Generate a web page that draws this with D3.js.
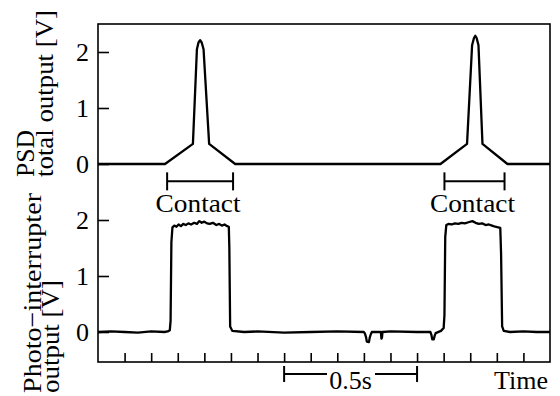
<!DOCTYPE html>
<html>
<head>
<meta charset="utf-8" />
<script src="https://d3js.org/d3.v7.min.js"></script>
<style>
  body { margin: 0; background: #fff; }
  svg text { font-family: "Liberation Serif", "Times New Roman", serif; font-size: 26px; fill: #000; }
</style>
</head>
<body>
<div id="visu"></div>
<script>
// PSD total output [V] vs time [s]
const psdTime = [0, 0.252, 0.357, 0.372, 0.378, 0.384, 0.390, 0.397, 0.418, 0.516,
                 1.288, 1.388, 1.407, 1.414, 1.419, 1.424, 1.431, 1.446, 1.540, 1.7];
const psdVolt = [0, 0, 0.36, 2.05, 2.17, 2.21, 2.17, 2.05, 0.36, 0,
                 0, 0.36, 2.12, 2.25, 2.29, 2.25, 2.12, 0.36, 0, 0];

// Photo-interrupter output [V] vs time [s]
const piTime = [0, 0.05, 0.1, 0.15, 0.2, 0.25, 0.262, 0.270, 0.273, 0.276, 0.280, 0.287, 0.295, 0.303,
                0.312, 0.320, 0.330, 0.340, 0.350, 0.362, 0.372, 0.381, 0.390, 0.400, 0.410, 0.420,
                0.432, 0.445, 0.456, 0.466, 0.476, 0.486, 0.492, 0.494, 0.497, 0.505, 0.55,
                0.6, 0.7, 0.8, 0.9, 1.0, 1.004, 1.008, 1.011, 1.019, 1.022, 1.026, 1.030,
                1.064, 1.066, 1.068, 1.070,
                1.1, 1.2, 1.250, 1.254, 1.257, 1.263, 1.266, 1.270, 1.29, 1.300, 1.303, 1.306, 1.310, 1.318,
                1.330, 1.342, 1.355, 1.368, 1.380, 1.393, 1.408, 1.420, 1.432, 1.445, 1.458,
                1.470, 1.482, 1.494, 1.505, 1.513, 1.516, 1.520, 1.526, 1.55, 1.6, 1.65, 1.7];
const piVolt = [0, 0.01, 0, -0.01, 0.01, 0, 0.01, 0.03, 0.2, 1.6, 1.87, 1.90, 1.88, 1.92,
                1.89, 1.93, 1.91, 1.94, 1.92, 1.95, 1.93, 1.98, 1.95, 1.97, 1.94, 1.93,
                1.95, 1.91, 1.93, 1.90, 1.92, 1.89, 1.88, 1.5, 0.1, 0.02, 0,
                0.01, -0.01, 0, 0.01, 0, -0.03, -0.09, -0.17, -0.18, -0.10, -0.04, 0,
                0, -0.12, -0.10, 0,
                0.01, 0, 0, -0.05, -0.13, -0.13, -0.07, -0.02, 0.02, 0.07, 0.3, 1.7, 1.91, 1.93,
                1.92, 1.94, 1.93, 1.95, 1.94, 1.96, 1.98, 1.95, 1.93, 1.94, 1.91,
                1.92, 1.90, 1.88, 1.87, 1.86, 1.4, 0.1, 0.02, 0, 0.01, 0, 0];

// Contact intervals [s]
const contactStart = [0.26, 1.303];
const contactEnd = [0.508, 1.529];
const contactLabel = "Contact";

const yTicks = [0, 1, 2];
const xTicks = d3.range(1, 17).map(i => i / 10);
const scaleBar = [0.7, 1.2];
const scaleBarLabel = "0.5s";

const width = 560, height = 396;
const mLeft = 98, mRight = 550, mTop = 24, mBottom = 362;

const x = d3.scaleLinear().domain([0, 1.7]).range([mLeft, mRight]);
const yTop = d3.scaleLinear().domain([0, 2.5]).range([164, mTop]);
const yBot = d3.scaleLinear().domain([0, 2]).range([332, 220]);

const svg = d3.select("#visu").append("svg")
    .attr("width", width)
    .attr("height", height);

// cadre
svg.append("rect")
    .attr("x", mLeft).attr("y", mTop)
    .attr("width", mRight - mLeft).attr("height", mBottom - mTop)
    .attr("fill", "none").attr("stroke", "#000").attr("stroke-width", 1.6);

// traces
const psdLine = d3.line().x((d, i) => x(psdTime[i])).y(d => yTop(d));
svg.append("path")
    .attr("d", psdLine(psdVolt))
    .attr("fill", "none").attr("stroke", "#000").attr("stroke-width", 2.3)
    .attr("stroke-linejoin", "round");

const piLine = d3.line().x((d, i) => x(piTime[i])).y(d => yBot(d));
svg.append("path")
    .attr("d", piLine(piVolt))
    .attr("fill", "none").attr("stroke", "#000").attr("stroke-width", 2.3)
    .attr("stroke-linejoin", "round");

// axes y (ticks vers l'interieur)
function yAxis(scale) {
    const g = svg.append("g").attr("transform", `translate(${mLeft},0)`)
        .call(d3.axisLeft(scale).tickValues(yTicks).tickSize(-11).tickPadding(20).tickFormat(d3.format("d")));
    g.select(".domain").remove();
    g.selectAll(".tick line").attr("stroke", "#000").attr("stroke-width", 1.6);
    g.selectAll(".tick text")
        .attr("font-family", "Liberation Serif").attr("font-size", 26)
        .attr("x", -9).attr("dy", "0.34em");
}
yAxis(yTop);
yAxis(yBot);

// axe x
const gx = svg.append("g").attr("transform", `translate(0,${mBottom})`)
    .call(d3.axisBottom(x).tickValues(xTicks).tickSize(-9).tickFormat(""));
gx.select(".domain").remove();
gx.selectAll(".tick line").attr("stroke", "#000").attr("stroke-width", 1.6);

// brackets "Contact"
contactStart.forEach((s, i) => {
    const e = contactEnd[i];
    const yb = yTop(-0.31);
    const g = svg.append("g").attr("stroke", "#000").attr("stroke-width", 2);
    g.append("line").attr("x1", x(s)).attr("x2", x(e)).attr("y1", yb).attr("y2", yb);
    g.append("line").attr("x1", x(s)).attr("x2", x(s)).attr("y1", yb - 9).attr("y2", yb + 9);
    g.append("line").attr("x1", x(e)).attr("x2", x(e)).attr("y1", yb - 9).attr("y2", yb + 9);
    svg.append("text")
        .attr("x", (x(s) + x(e)) / 2 - 2)
        .attr("y", 212)
        .attr("text-anchor", "middle")
        .attr("textLength", 85)
        .attr("lengthAdjust", "spacingAndGlyphs")
        .text(contactLabel);
});

// barre d'echelle 0.5s
const sy = 374;
const sb = svg.append("g").attr("stroke", "#000").attr("stroke-width", 2);
sb.append("line").attr("x1", x(scaleBar[0])).attr("x2", 327).attr("y1", sy).attr("y2", sy);
sb.append("line").attr("x1", 375).attr("x2", x(scaleBar[1])).attr("y1", sy).attr("y2", sy);
sb.append("line").attr("x1", x(scaleBar[0])).attr("x2", x(scaleBar[0])).attr("y1", sy - 8).attr("y2", sy + 8);
sb.append("line").attr("x1", x(scaleBar[1])).attr("x2", x(scaleBar[1])).attr("y1", sy - 8).attr("y2", sy + 8);
svg.append("text")
    .attr("x", (x(scaleBar[0]) + x(scaleBar[1])) / 2)
    .attr("y", 389)
    .attr("text-anchor", "middle")
    .text(scaleBarLabel);

svg.append("text")
    .attr("x", 548).attr("y", 389)
    .attr("text-anchor", "end")
    .text("Time");

// titres des axes y
const yLabels = [
    { text: "PSD", x: 34, y: 177, len: 47 },
    { text: "total output [V]", x: 53, y: 177, len: 167 },
    { text: "Photo\u2212interrupter", x: 41, y: 393, len: 200 },
    { text: "output [V]", x: 59, y: 393, len: 113 }
];
yLabels.forEach(l => {
    svg.append("text")
        .attr("transform", `translate(${l.x},${l.y}) rotate(-90)`)
        .attr("text-anchor", "start")
        .attr("textLength", l.len)
        .attr("lengthAdjust", "spacingAndGlyphs")
        .text(l.text);
});
</script>
</body>
</html>
